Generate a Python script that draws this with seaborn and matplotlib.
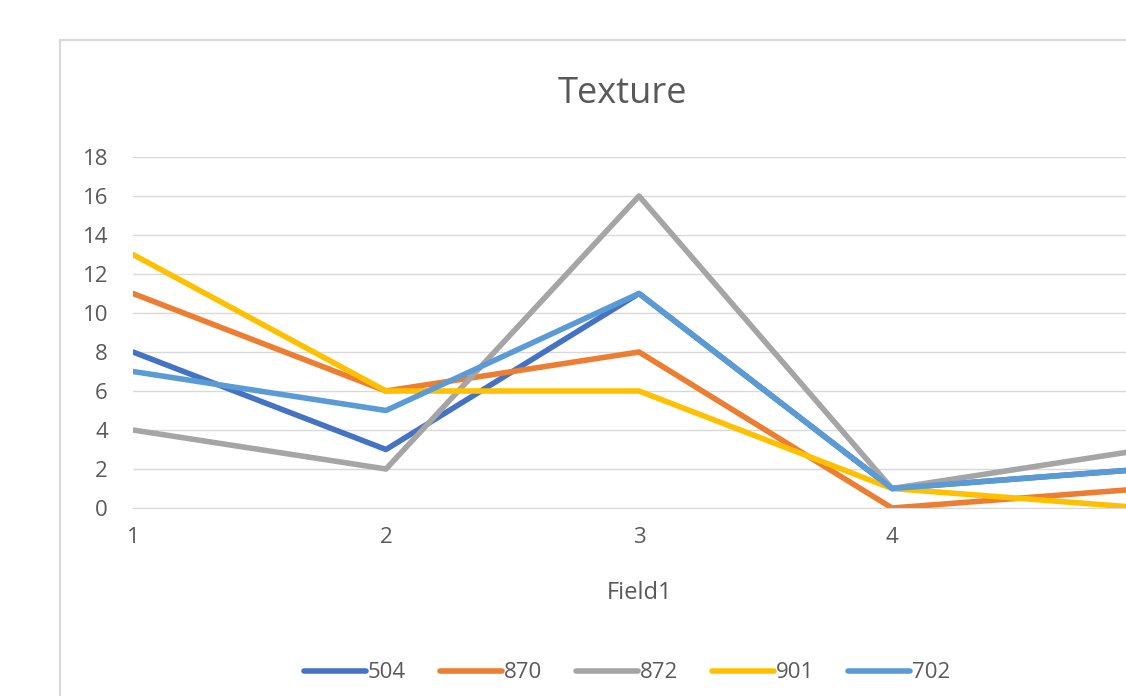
import matplotlib
matplotlib.use('Agg')

import matplotlib.pyplot as plt
import matplotlib.patches as mpatches
import pandas as pd
import seaborn as sns

# ------------------------------------------------------------
#     Data
# ------------------------------------------------------------

fields = [1, 2, 3, 4, 5]
series_names = ["504", "870", "872", "901", "702"]
v504 = [8, 3, 11, 1, 2]
v870 = [11, 6, 8, 0, 1]
v872 = [4, 2, 16, 1, 3]
v901 = [13, 6, 6, 1, 0]
v702 = [7, 5, 11, 1, 2]
yticks = [0, 2, 4, 6, 8, 10, 12, 14, 16, 18]
xticks = [1, 2, 3, 4]

colors = {"504": "#4472C4", "870": "#ED7D31", "872": "#A5A5A5",
          "901": "#FFC000", "702": "#5B9BD5"}

rows = []
for name, vals in zip(series_names, [v504, v870, v872, v901, v702]):
    for f, v in zip(fields, vals):
        rows.append({"Field1": f, "value": v, "series": name})
df = pd.DataFrame(rows)

# ------------------------------------------------------------
#     Plot
# ------------------------------------------------------------

sns.set_style("white")
plt.rcParams['font.family'] = ['Open Sans', 'DejaVu Sans']
text_col = "#595959"
grid_col = "#D9D9D9"

W, H = 1126, 696
fig = plt.figure(figsize=(W / 100, H / 100), dpi=100)

# chart border (cropped on right and bottom)
fig.patches.append(mpatches.Rectangle(
    (60 / W, -0.1), 2.0, 1.1 - 40 / H, transform=fig.transFigure,
    fill=False, edgecolor=grid_col, lw=1.5, clip_on=False))

# x=1 at px 133, x=5 at px 1145 (beyond figure edge)
left, right = 133 / W, 1145 / W
bottom, top = 1 - 508 / H, 1 - 157 / H
ax = fig.add_axes([left, bottom, right - left, top - bottom])

sns.lineplot(data=df, x="Field1", y="value", hue="series",
             hue_order=series_names, palette=colors, linewidth=4.0,
             solid_capstyle='round', solid_joinstyle='round',
             ax=ax, legend=False, zorder=3)

ax.set_xlim(1, 5)
ax.set_ylim(0, 18)
ax.set_yticks(yticks)
ax.set_xticks(xticks)
ax.yaxis.grid(True, color=grid_col, lw=1.0)
ax.xaxis.grid(False)
for s in ax.spines.values():
    s.set_visible(False)
ax.spines['bottom'].set_visible(True)
ax.spines['bottom'].set_color(grid_col)
ax.tick_params(axis='both', length=0, labelsize=16, colors=text_col)
ax.tick_params(axis='y', pad=18)
ax.tick_params(axis='x', pad=14)
ax.set_xlabel("")
ax.set_ylabel("")

fig.text(622 / W, 1 - 94 / H, "Texture", ha='center', va='center',
         fontsize=26, color=text_col)
fig.text(640 / W, 1 - 593 / H, "Field1", ha='center', va='center',
         fontsize=17, color=text_col)

handles = [plt.Line2D([], [], color=colors[n], lw=4.0, solid_capstyle='round')
           for n in series_names]
fig.legend(handles, series_names, loc='center', ncol=5,
           bbox_to_anchor=(627 / W, 1 - 673 / H), frameon=False,
           fontsize=16, labelcolor=text_col, handlelength=2.8,
           handletextpad=0.1, columnspacing=1.5)

plt.savefig("out.png", dpi=100)
